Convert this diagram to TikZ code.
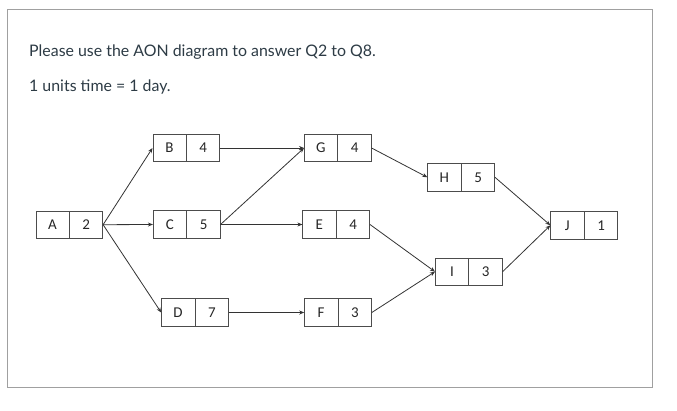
\documentclass[tikz,border=0pt]{standalone}
\usepackage{fontspec}
\setmainfont{Lato}
\newfontfamily\boxfont{Carlito}
\usetikzlibrary{shapes.multipart,arrows.meta}
\definecolor{txt}{HTML}{2D3B45}
\definecolor{framec}{HTML}{A0A0A0}
\tikzset{
  act/.style={rectangle split, rectangle split horizontal, rectangle split parts=2,
    draw=black!70, line width=0.8pt, inner xsep=0pt, inner ysep=0pt,
    minimum height=27.5pt, font=\boxfont\fontsize{15}{17}\selectfont, text=black!85},
  link/.style={draw=black!80, line width=0.8pt, -{Stealth[length=5pt,width=4pt]}},
  lbl/.style={anchor=base west, inner sep=0pt, text=txt, font=\fontsize{15.9}{18}\selectfont}
}
\newcommand{\actbox}[2]{\makebox[33pt]{#1}\nodepart{two}\makebox[33pt]{#2}}
\begin{document}
\begin{tikzpicture}[x=1pt,y=-1pt]
\useasboundingbox (0,0) rectangle (677,410);
\draw[framec, line width=0.9pt] (7.5,9.3) rectangle (652.3,387.3);
\node[lbl] (t1) at (29,56) {Please use the AON diagram to answer Q2 to Q8.};
\node[lbl] (t2) at (29,91) {1 units time = 1 day.};

\node[act] (A) at (69.3,224.7) {\actbox{A}{2}};
\node[act] (B) at (186.3,148) {\actbox{B}{4}};
\node[act] (C) at (186.7,224.5) {\actbox{C}{5}};
\node[act] (D) at (195,312.5) {\actbox{D}{7}};
\node[act] (G) at (337.8,148) {\actbox{G}{4}};
\node[act] (E) at (336.2,224.5) {\actbox{E}{4}};
\node[act] (F) at (338,312.5) {\actbox{F}{3}};
\node[act] (H) at (461.2,177.3) {\actbox{H}{5}};
\node[act] (I) at (468.8,271.7) {\actbox{I}{3}};
\node[act] (J) at (584.2,225.3) {\actbox{J}{1}};

\draw[link] (A.east) -- (B.west);
\draw[link] (A.east) -- (C.west);
\draw[link] (A.east) -- (D.west);
\draw[link] (B.east) -- (G.west);
\draw[link] (C.east) -- (G.west);
\draw[link] (C.east) -- (E.west);
\draw[link] (D.east) -- (F.west);
\draw[link] (G.east) -- (H.west);
\draw[link] (E.east) -- (I.west);
\draw[link] (F.east) -- (I.west);
\draw[link] (H.east) -- (J.west);
\draw[link] (I.east) -- (J.west);
\end{tikzpicture}
\end{document}
